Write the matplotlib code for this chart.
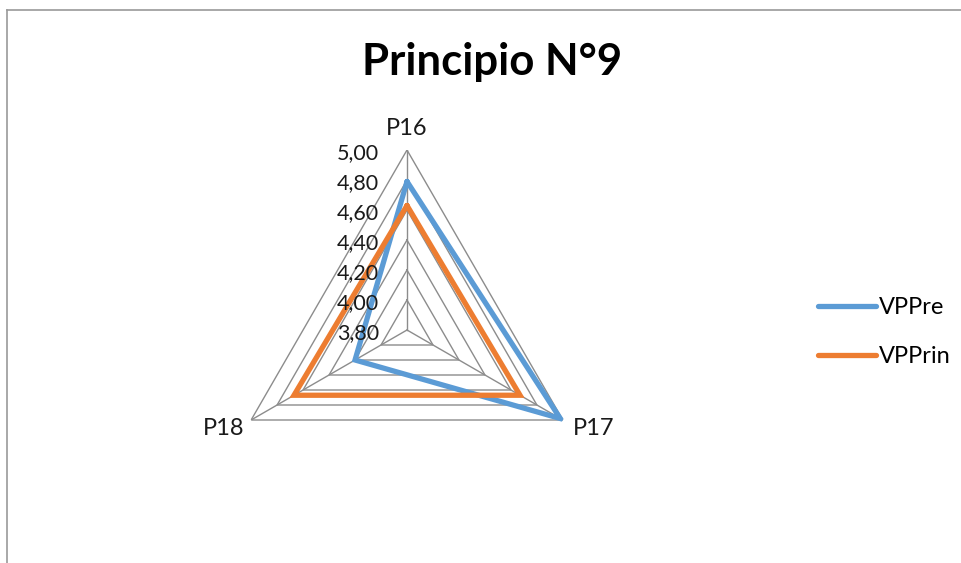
import numpy as np
import matplotlib
matplotlib.use("Agg")
import matplotlib.pyplot as plt
from matplotlib.lines import Line2D

categories = ["P16", "P17", "P18"]
vppre = [4.79, 4.98, 4.20]
vpprin = [4.63, 4.67, 4.67]
tick_values = [3.80, 4.00, 4.20, 4.40, 4.60, 4.80, 5.00]
tick_labels = ["3,80", "4,00", "4,20", "4,40", "4,60", "4,80", "5,00"]
title = "Principio N°9"

plt.rcParams['font.family'] = ['Lato', 'DejaVu Sans']

W, H = 962, 563
fig = plt.figure(figsize=(W / 100, H / 100), dpi=100)
cx, cy, R = 407, 563 - 330, 180
ax = fig.add_axes([(cx - R) / W, (cy - R) / H, 2 * R / W, 2 * R / H], projection='polar')
ax.set_theta_zero_location('N')
ax.set_theta_direction(-1)
ax.set_ylim(tick_values[0], tick_values[-1])
ax.grid(False)
ax.spines['polar'].set_visible(False)
ax.set_xticks([])
ax.set_yticks([])
ax.patch.set_alpha(0)

n = len(categories)
angles = np.arange(n) * 2 * np.pi / n
closed = np.append(angles, angles[0])

grid_color = '#8c8c8c'
for v in tick_values[1:]:
    ax.plot(closed, [v] * (n + 1), color=grid_color, lw=1.0, zorder=1)
for a in angles:
    ax.plot([a, a], [tick_values[0], tick_values[-1]], color=grid_color, lw=1.0, zorder=1)

ax.plot(closed, vppre + vppre[:1], color='#5B9BD5', lw=3.8, zorder=3, label='VPPre',
        solid_joinstyle='miter', solid_capstyle='round')
ax.plot(closed, vpprin + vpprin[:1], color='#ED7D31', lw=3.8, zorder=4, label='VPPrin',
        solid_joinstyle='miter', solid_capstyle='round')

for v, lab in zip(tick_values, tick_labels):
    ax.annotate(lab, xy=(0, v), xytext=(-20, -2), textcoords='offset points',
                ha='right', va='center', fontsize=15.5, color='#1a1a1a', zorder=5)

offsets = [(0, 15.5, 'center', 'center'), (7, -6, 'left', 'center'), (-5, -6, 'right', 'center')]
for a, lab, (dx, dy, ha, va) in zip(angles, categories, offsets):
    ax.annotate(lab, xy=(a, tick_values[-1]), xytext=(dx, dy), textcoords='offset points',
                ha=ha, va=va, fontsize=17, color='#1a1a1a')

fig.text(492 / W, 1 - 62 / H, title, ha='center', va='center', fontsize=31.5,
         fontweight='bold', color='black')

leg = fig.legend(loc='center left', bbox_to_anchor=(797 / W, 1 - 332 / H), frameon=False,
                 fontsize=17, handlelength=2.45, labelspacing=1.2, handletextpad=0.1)
for line in leg.get_lines():
    line.set_linewidth(3.8)
    line.set_solid_capstyle('round')

fig.add_artist(Line2D([7 / W, 7 / W], [0, 1 - 10 / H], transform=fig.transFigure,
                      color='#9a9a9a', lw=1.2))
fig.add_artist(Line2D([7 / W, 1], [1 - 10 / H, 1 - 10 / H], transform=fig.transFigure,
                      color='#9a9a9a', lw=1.2))

fig.savefig('out.png', dpi=100)
